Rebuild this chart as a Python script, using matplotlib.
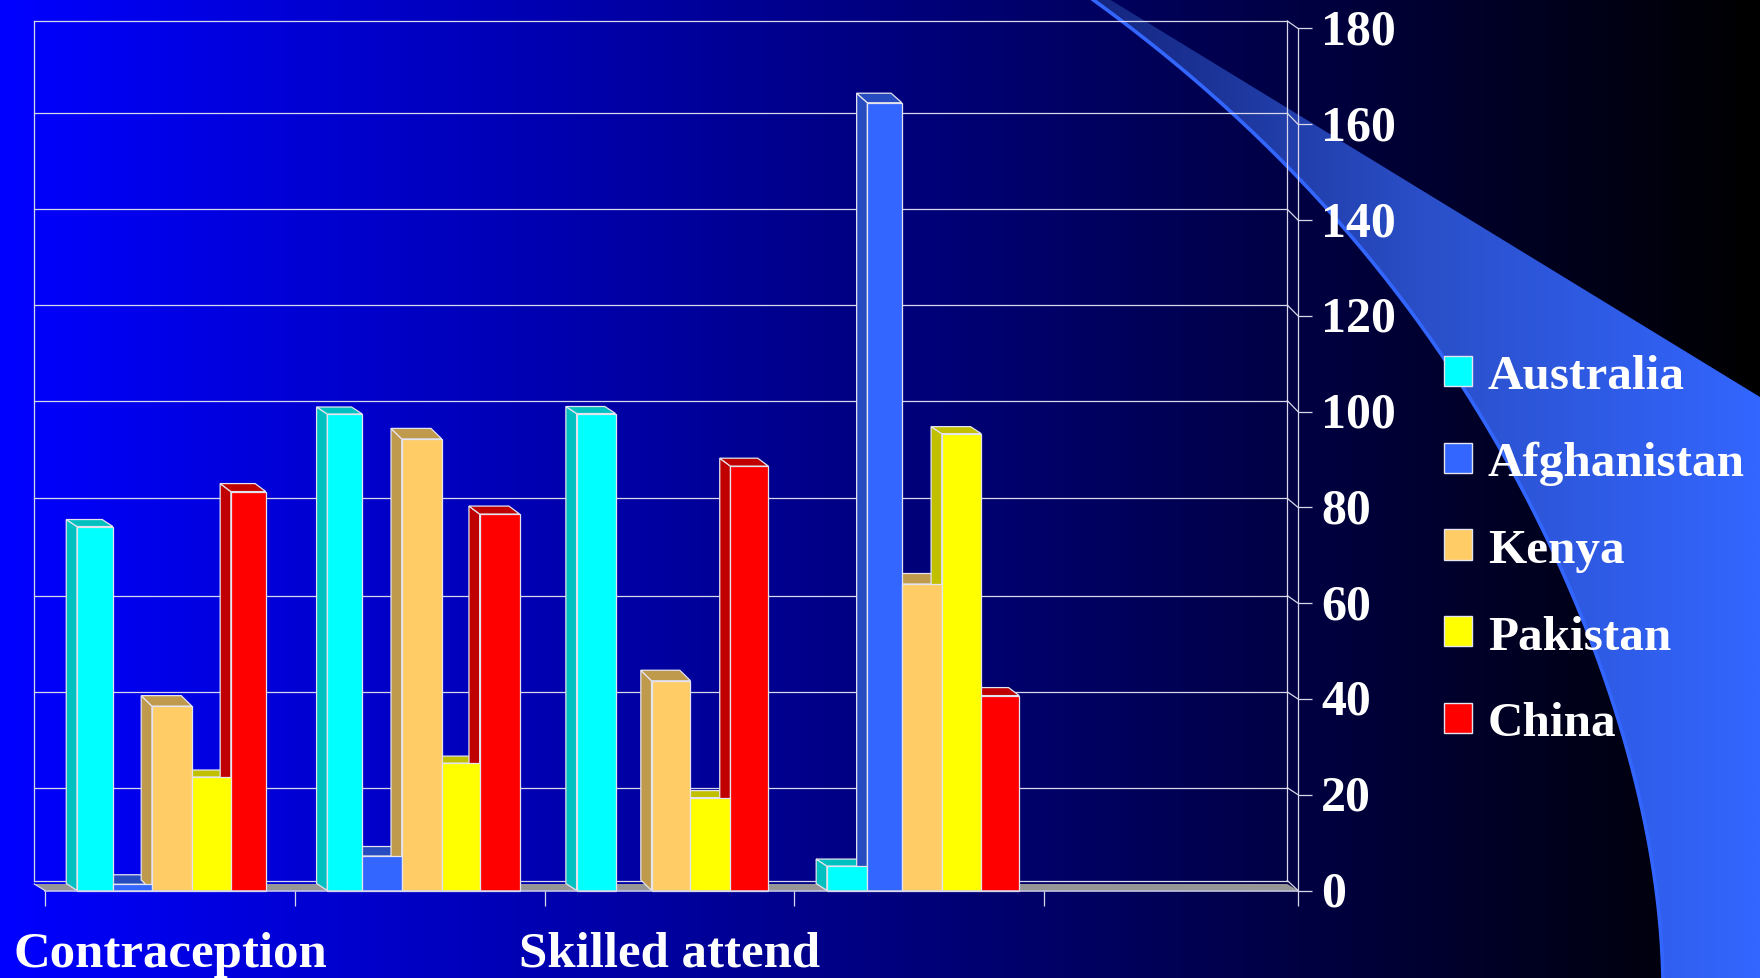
import numpy as np
import matplotlib
matplotlib.use("Agg")
import matplotlib.pyplot as plt
from matplotlib.colors import LinearSegmentedColormap
from matplotlib.patches import Polygon, Patch
from matplotlib.transforms import ScaledTranslation

# ---- data ----
COUNTRIES = ["Australia", "Afghanistan", "Kenya", "Pakistan", "China"]
australia = [76, 99.5, 99.6, 5.1]
afghanistan = [1.3, 7.2, 0, 164.5]
kenya = [38.5, 94.3, 43.8, 64]
pakistan = [23.7, 26.6, 19.4, 95.4]
china = [83.3, 78.6, 88.6, 40.7]
GROUP_LABELS = ["Contraception", "Skilled attend"]
GROUP_LABEL_POS = [0.5, 2.5]
Y_TICKS = [0, 20, 40, 60, 80, 100, 120, 140, 160, 180]
X_TICKS = [0, 1, 2, 3, 4]

# ---- style ----
W, H = 1760, 979
PX_X, PX_Y = 249.8, 4.789          # pixels per category / per unit
X0_PX, Y0_PX = 45, 891.5           # where (0, 0) falls in the image
X_END = (1298 - X0_PX) / PX_X
FACE = ["#00ffff", "#3366ff", "#ffcc66", "#ffff00", "#ff0000"]
SHADE = ["#00c0c0", "#264cbf", "#c09a4c", "#c0c000", "#c00000"]
EDGE = "#e4e4ee"
LINE = "#d8d8ea"
# bar edges inside each cluster, the source raster is not quite even
BAR_EDGES = [
    [0.128, 0.272, 0.428, 0.588, 0.744, 0.884],
    [0.130, 0.270, 0.428, 0.588, 0.740, 0.900],
    [0.128, 0.284, 0.428, 0.584, 0.744, 0.896],
    [0.130, 0.292, 0.430, 0.590, 0.748, 0.900],
]
DEPTH_X = 10.7 / PX_X
BAR_DEPTH_Y = [7, 9.5, 10.5, 7, 8]                    # px, as rendered per series
GRID_DEPTH_Y = [10, 7, 7, 7.5, 9, 11, 10.7, 10.7, 11, 7.5]  # px, per gridline
FONT = ["Liberation Serif", "DejaVu Serif"]
FS = 36

plt.rcParams["font.family"] = FONT
plt.rcParams["font.weight"] = "bold"

fig = plt.figure(figsize=(W / 100, H / 100), dpi=100)

# background gradient and swoosh, in image pixels
bg = fig.add_axes([0, 0, 1, 1])
bg.set_axis_off()
bg_cmap = LinearSegmentedColormap.from_list("bg", ["#0000ff", "#000000"])
bg.imshow(np.linspace(0, 1, 512).reshape(1, -1), cmap=bg_cmap, aspect="auto",
          extent=(0, W, H, 0), interpolation="bilinear", zorder=0)

curve_y = np.array([0, 20, 113, 167, 230, 290, 360, 423, 500, 595, 730, 853, 979])
curve_x = np.array([1093, 1118, 1231, 1288, 1344, 1394, 1444, 1485, 1528, 1571, 1622, 1650, 1663])
yy = np.linspace(0, H, 200)
xx = np.polyval(np.polyfit(curve_y, curve_x, 5), yy)
outline = np.vstack([np.column_stack([xx, yy]), [[W, H], [W, 398], [1109, 0]]])
sw_cmap = LinearSegmentedColormap.from_list("sw", ["#14257e", "#2a4fc8", "#3366ff"])
im = bg.imshow(np.linspace(0, 1, 512).reshape(1, -1), cmap=sw_cmap, aspect="auto",
               extent=(1090, W, H, 0), interpolation="bilinear", zorder=1)
clip = Polygon(outline, closed=True, transform=bg.transData)
im.set_clip_path(clip)
bg.plot(xx, yy, color="#3366ff", lw=2.6, zorder=2)
bg.set_xlim(0, W)
bg.set_ylim(H, 0)

# chart axes over the whole figure, data coordinates = categories / values
ax = fig.add_axes([0, 0, 1, 1], facecolor="none")
ax.set_xlim(-X0_PX / PX_X, (W - X0_PX) / PX_X)
ax.set_ylim((Y0_PX - H) / PX_Y, Y0_PX / PX_Y)

# floor
floor_dy = 6.5 / PX_Y
ax.add_patch(Polygon([(-DEPTH_X, floor_dy), (X_END - DEPTH_X, floor_dy), (X_END, 0), (0, 0)],
                     closed=True, facecolor="#969696", edgecolor="none", zorder=1))

# back wall gridlines and the little diagonals on the right side wall
back = [v + d / PX_Y for v, d in zip(Y_TICKS, GRID_DEPTH_Y)]
for v, b in zip(Y_TICKS, back):
    ax.plot([-DEPTH_X, X_END - DEPTH_X], [b, b], color=LINE, lw=0.9, zorder=2)
    ax.plot([X_END - DEPTH_X, X_END], [b, v], color=LINE, lw=0.9, zorder=2)
ax.plot([-DEPTH_X, -DEPTH_X], [back[0], back[-1]], color=LINE, lw=0.9, zorder=2)
ax.plot([X_END - DEPTH_X, X_END - DEPTH_X], [back[0], back[-1]], color=LINE, lw=0.9, zorder=2)
ax.plot([-DEPTH_X, 0], [floor_dy, 0], color=LINE, lw=0.9, zorder=2)

# 3d bars: within a cluster all the shaded faces go first, then the fronts
series = [australia, afghanistan, kenya, pakistan, china]
z = 3
for g in range(len(australia)):
    edges = BAR_EDGES[g]
    for s, values in enumerate(series):
        v = values[g]
        if v <= 0:
            continue
        x0 = g + edges[s]
        x1 = g + edges[s + 1]
        dy = BAR_DEPTH_Y[s] / PX_Y
        side = [(x0, 0), (x0 - DEPTH_X, dy), (x0 - DEPTH_X, v + dy), (x0, v)]
        top = [(x0, v), (x0 - DEPTH_X, v + dy), (x1 - DEPTH_X, v + dy), (x1, v)]
        for pts in (side, top):
            ax.add_patch(Polygon(pts, closed=True, facecolor=SHADE[s], edgecolor=EDGE, lw=0.9, zorder=z))
        z += 1
    for s, values in enumerate(series):
        v = values[g]
        if v <= 0:
            continue
        x0 = g + edges[s]
        x1 = g + edges[s + 1]
        ax.bar(x0, v, width=x1 - x0, align="edge", color=FACE[s], edgecolor=EDGE, lw=0.9, zorder=z)
    z += 1

# axes
for name in ("top", "left"):
    ax.spines[name].set_visible(False)
ax.spines["right"].set_position(("data", X_END))
ax.spines["right"].set_bounds(0, 180)
ax.spines["right"].set_color(LINE)
ax.spines["right"].set_linewidth(0.9)
ax.spines["bottom"].set_position(("data", 0))
ax.spines["bottom"].set_bounds(0, X_END)
ax.spines["bottom"].set_color(LINE)
ax.spines["bottom"].set_linewidth(1.1)
ax.spines["bottom"].set_zorder(z + 5)

ax.yaxis.tick_right()
ax.set_yticks(Y_TICKS)
ax.tick_params(axis="y", direction="out", length=10, width=0.9, color=LINE, pad=6.5,
               labelcolor="white", labelsize=FS)
# value labels sit a little higher than matplotlib centres them
nudge = ScaledTranslation(0, 2.5 / 100, fig.dpi_scale_trans)
for label in ax.get_yticklabels():
    label.set_transform(label.get_transform() + nudge)
ax.set_xticks(X_TICKS + [X_END])
ax.set_xticklabels([""] * (len(X_TICKS) + 1))
ax.set_xticks(GROUP_LABEL_POS, GROUP_LABELS, minor=True)
ax.tick_params(axis="x", which="major", direction="out", length=11, width=0.9, color=LINE)
ax.tick_params(axis="x", which="minor", length=0, pad=29, labelcolor="white", labelsize=36.6)

# legend
handles = [Patch(facecolor=c, edgecolor=EDGE, lw=1.0) for c in FACE]
leg = ax.legend(handles, COUNTRIES, frameon=False, fontsize=35.4, labelcolor="white",
                loc="upper left", bbox_to_anchor=(1444 / W, 1 - 355 / H),
                bbox_transform=fig.transFigure, borderaxespad=0, borderpad=0,
                handlelength=0.57, handleheight=0.57, handletextpad=0.32, labelspacing=0.87)
leg.set_zorder(z + 10)

fig.savefig("out.png", dpi=100)
